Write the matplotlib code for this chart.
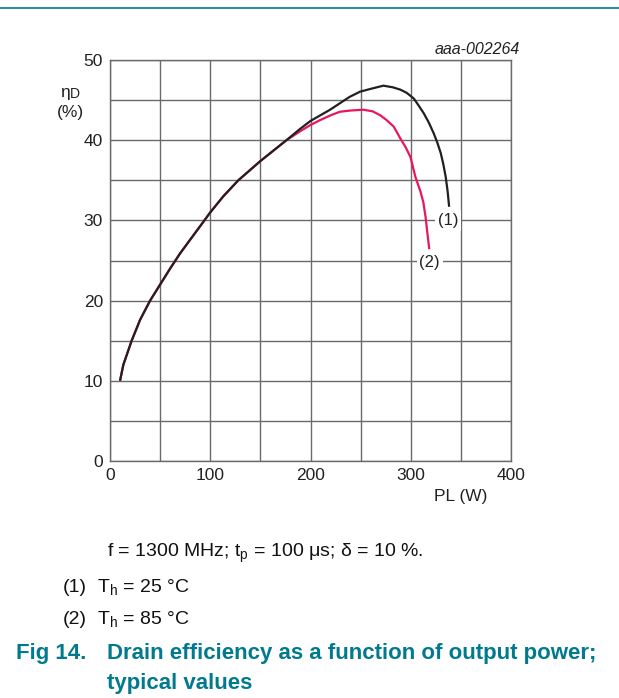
import matplotlib
matplotlib.use("Agg")
import matplotlib.pyplot as plt
from matplotlib.lines import Line2D

plt.rcParams['font.family'] = ['Liberation Sans', 'DejaVu Sans']

# Curve (1): Th = 25 C
x1 = [10, 13.3, 21.6, 30, 40, 50, 60, 70, 80, 93, 100, 113, 128, 150, 176, 189.5, 200,
      219.5, 239, 249.4, 260, 272.7, 282, 289.7, 296, 303, 308, 313, 318, 322.9,
      326.5, 329.9, 332.5, 334.9, 336.8, 338.3]
y1 = [10, 12, 15, 17.6, 20, 22.0, 24.0, 25.9, 27.6, 29.8, 31.0, 33.0, 35.0, 37.4, 40.0, 41.4, 42.4,
      43.8, 45.4, 46.05, 46.4, 46.8, 46.6, 46.3, 45.9, 45.2, 44.3, 43.35, 42.2, 40.86,
      39.7, 38.4, 37.0, 35.4, 33.6, 31.7]
# Curve (2): Th = 85 C
x2 = [10, 13.3, 21.6, 30, 40, 50, 60, 70, 80, 93, 100, 113, 128, 150, 176, 189.5, 200,
      209.5, 220, 229.4, 240, 252.7, 262, 269.7, 276, 283, 289.7, 295, 299.7, 304.7,
      309.7, 312.5, 314.7, 316.5, 318.5]
y2 = [10, 12, 15, 17.6, 20, 22.0, 24.0, 25.9, 27.6, 29.8, 31.0, 33.0, 35.0, 37.4, 40.0, 41.1, 41.9,
      42.5, 43.1, 43.55, 43.7, 43.8, 43.6, 43.1, 42.5, 41.7, 40.2, 39.1, 37.9, 35.4,
      33.6, 32.3, 30.5, 28.5, 26.4]

xticks = [0, 100, 200, 300, 400]
yticks = [0, 10, 20, 30, 40, 50]

W, H = 619, 698
fig = plt.figure(figsize=(W / 100, H / 100), dpi=100)
ax = fig.add_axes([110 / W, 1 - 461 / H, 401 / W, 401 / H])

ax.set_xlim(0, 400)
ax.set_ylim(0, 50)
ax.set_xticks(xticks)
ax.set_yticks(yticks)
ax.set_xticks(range(0, 401, 50), minor=True)
ax.set_yticks(range(0, 51, 5), minor=True)
ax.tick_params(which='both', length=0, labelsize=12.5, colors='#222222', pad=5)
ax.grid(True, which='both', color='#6a6a6a', linewidth=1.0)
ax.set_axisbelow(True)
for s in ax.spines.values():
    s.set_color('#6a6a6a')
    s.set_linewidth(1.0)

ax.plot(x2, y2, color='#e8175d', linewidth=1.6, solid_capstyle='butt',
        solid_joinstyle='round', zorder=3)
ax.plot(x1, y1, color='#231f20', linewidth=1.6, solid_capstyle='butt',
        solid_joinstyle='round', zorder=4)

ax.text(337.5, 30, '(1)', ha='center', va='center', fontsize=12, color='#222222',
        bbox=dict(facecolor='white', edgecolor='none', pad=2), zorder=5)
ax.text(319, 24.7, '(2)', ha='center', va='center', fontsize=12, color='#222222',
        bbox=dict(facecolor='white', edgecolor='none', pad=2), zorder=5)

# axis labels
fig.text(461 / W, 1 - 497 / H, 'PL (W)', ha='center', va='center', fontsize=12.5, color='#222222')
fig.text(65 / W, 1 - 92 / H, 'η', ha='center', va='center', fontsize=12.5, color='#222222')
fig.text(70 / W, 1 - 94 / H, 'D', ha='left', va='center', fontsize=10, color='#222222')
fig.text(70 / W, 1 - 112 / H, '(%)', ha='center', va='center', fontsize=12.5, color='#222222')
fig.text(520 / W, 1 - 49 / H, 'aaa-002264', ha='right', va='center', fontsize=11.5,
         style='italic', color='#222222')

# top rule
fig.add_artist(Line2D([0, 1], [1 - 8 / H, 1 - 8 / H], color='#007a8c', linewidth=1.2))

# caption
fig.text(107 / W, 1 - 553 / H, r'f = 1300 MHz; t$_\mathregular{p}$ = 100 μs; δ = 10 %.',
         ha='left', va='center', fontsize=14, color='#111111')
fig.text(63 / W, 1 - 588 / H, '(1)', ha='left', va='center', fontsize=14, color='#111111')
fig.text(97 / W, 1 - 588 / H, r'T$_\mathregular{h}$ = 25 °C', ha='left', va='center',
         fontsize=14, color='#111111')
fig.text(63 / W, 1 - 620 / H, '(2)', ha='left', va='center', fontsize=14, color='#111111')
fig.text(97 / W, 1 - 620 / H, r'T$_\mathregular{h}$ = 85 °C', ha='left', va='center',
         fontsize=14, color='#111111')
fig.text(16 / W, 1 - 654 / H, 'Fig 14.', ha='left', va='center', fontsize=16,
         fontweight='bold', color='#007a8c')
fig.text(107 / W, 1 - 654 / H, 'Drain efficiency as a function of output power;',
         ha='left', va='center', fontsize=16, fontweight='bold', color='#007a8c')
fig.text(107 / W, 1 - 684 / H, 'typical values', ha='left', va='center', fontsize=16,
         fontweight='bold', color='#007a8c')

fig.savefig('out.png', dpi=100)
